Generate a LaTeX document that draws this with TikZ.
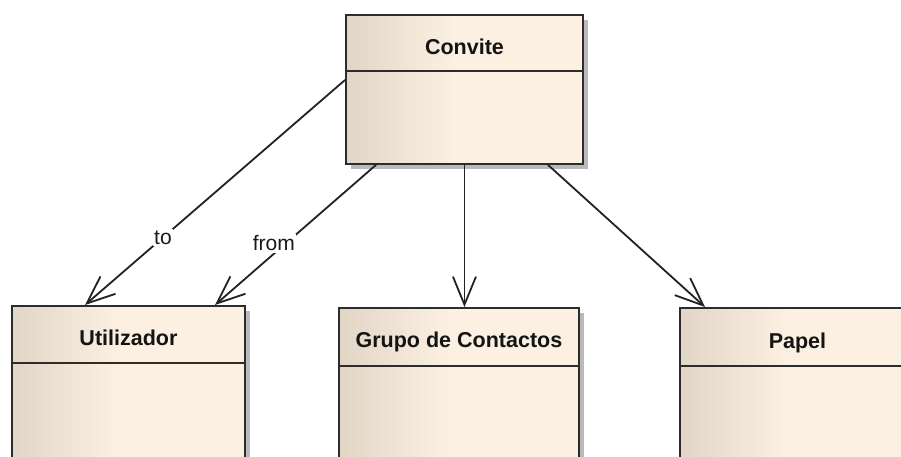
\documentclass[tikz,border=0pt]{standalone}
\usepackage{fontspec}
\setmainfont{Liberation Sans}
\usetikzlibrary{arrows.meta,shadows}
\definecolor{boxleft}{HTML}{E1D6C6}
\definecolor{boxright}{HTML}{FBF0E2}
\definecolor{edge}{HTML}{2C2C2C}
\definecolor{wire}{HTML}{222222}
\pgfdeclarehorizontalshading{classfill}{100bp}{color(0bp)=(boxleft); color(25bp)=(boxleft); color(48bp)=(boxright); color(100bp)=(boxright)}
\begin{document}
\begin{tikzpicture}[x=1pt,y=-1pt,
  classbox/.style={draw=edge, line width=1.9pt, shading=classfill,
    anchor=north west, inner sep=0pt,
    drop shadow={shadow xshift=5pt, shadow yshift=-5pt, fill=black!27, opacity=1}},
  divider/.style={draw=edge, line width=1.9pt},
  title/.style={anchor=base, font=\bfseries\fontsize{21.5}{21.5}\selectfont, text=black!92},
  assoc/.style={draw=wire, line width=1.8pt, -{Straight Barb[length=28pt,width=23pt]}},
  lbl/.style={fill=white, inner sep=1.5pt, font=\fontsize{21}{21}\selectfont, text=black!90}]
\useasboundingbox (0,0) rectangle (901,456);
\clip (0,0) rectangle (901,456);
\fill[white] (0,0) rectangle (901,456);

\node[classbox, minimum width=237pt, minimum height=149pt] (convite) at (345,14) {};
\node[classbox, minimum width=233pt, minimum height=200pt] (utilizador) at (11,305) {};
\node[classbox, minimum width=240pt, minimum height=200pt] (grupo) at (338,307) {};
\node[classbox, minimum width=237pt, minimum height=200pt] (papel) at (679,307) {};

\draw[divider] ([yshift=-57pt]convite.north west) -- ([yshift=-57pt]convite.north east);
\draw[divider] ([yshift=-58pt]utilizador.north west) -- ([yshift=-58pt]utilizador.north east);
\draw[divider] ([yshift=-59pt]grupo.north west) -- ([yshift=-59pt]grupo.north east);
\draw[divider] ([yshift=-59pt]papel.north west) -- ([yshift=-59pt]papel.north east);

\node[title] (tconvite) at ([yshift=-40pt]convite.north) {Convite};
\node[title] (tutil) at ([yshift=-40pt]utilizador.north) {Utilizador};
\node[title] (tgrupo) at ([yshift=-40pt]grupo.north) {Grupo de Contactos};
\node[title] (tpapel) at ([xshift=-1pt,yshift=-41pt]papel.north) {Papel};

\draw[assoc] ([yshift=-66pt]convite.north west) -- node[lbl, pos=0.7] (lto) {to} ([xshift=74pt]utilizador.north west);
\draw[assoc] ([xshift=31pt]convite.south west) -- node[lbl, pos=0.56, xshift=-12pt] (lfrom) {from} ([xshift=204pt]utilizador.north west);
\draw[assoc] (convite.south) -- (convite.south |- grupo.north);
\draw[assoc] ([xshift=203pt]convite.south west) -- ([xshift=26pt]papel.north west);
\end{tikzpicture}
\end{document}
